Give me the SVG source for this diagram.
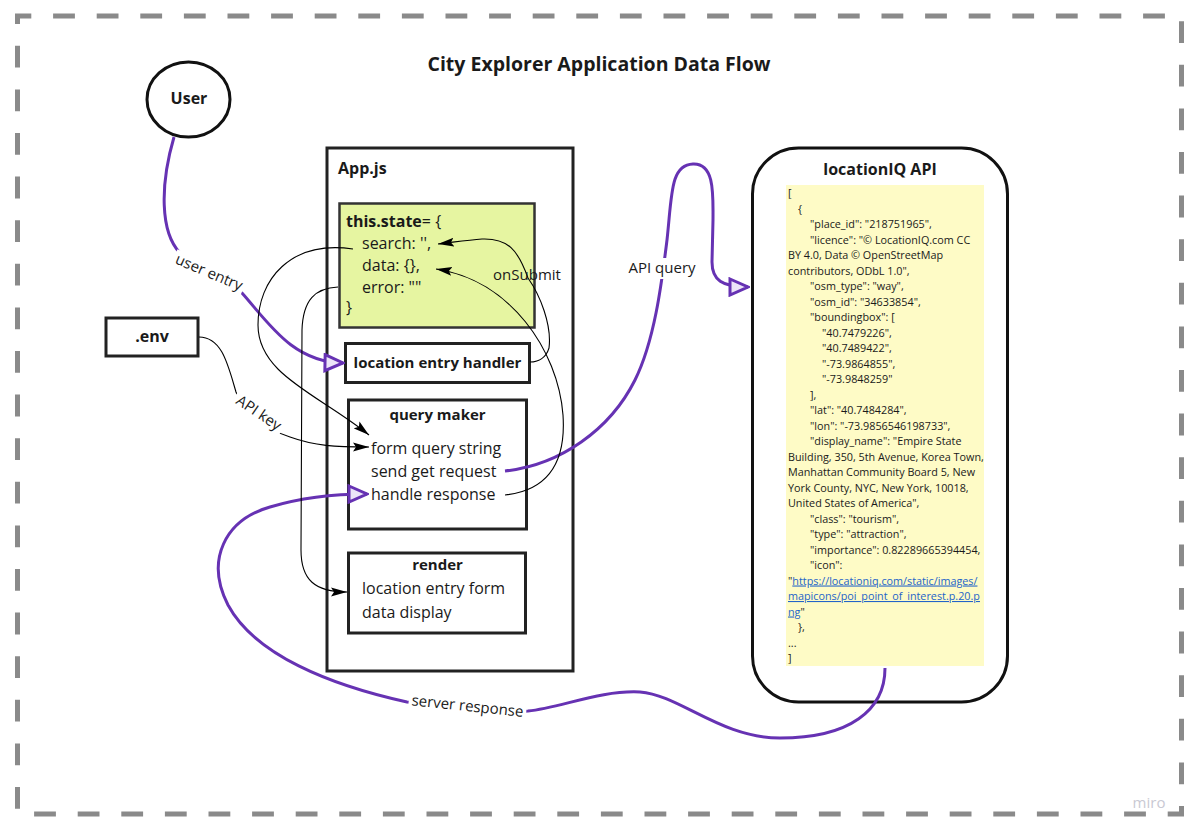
<svg xmlns="http://www.w3.org/2000/svg" width="1195" height="836" viewBox="0 0 1195 836">
<defs>
<style>
text{font-family:"Open Sans","Noto Sans","DejaVu Sans",sans-serif;fill:#1a1a1a}
.b{font-weight:bold}
.box{fill:#fff;stroke:#222;stroke-width:3}
.t16{font-size:16px}
.t15{font-size:15px}
.js{font-size:10.8px;fill:#2a2a2a}
.lnk{fill:#2364c9;text-decoration:underline}
.lbl{font-size:15px}
.bg{fill:#fff}
.pl{fill:none;stroke:#6632b3;stroke-width:3}
.bl{fill:none;stroke:#000;stroke-width:1.1}
</style>
<marker id="pa" viewBox="0 0 22 20" refX="20" refY="10" markerWidth="22" markerHeight="20" markerUnits="userSpaceOnUse" orient="auto">
<path d="M2,2 L20,10 L2,18 Z" fill="#ece5f8" stroke="#6632b3" stroke-width="3" stroke-linejoin="miter"/>
</marker>
<marker id="ba" viewBox="0 0 16 10" refX="16" refY="5" markerWidth="16" markerHeight="10" markerUnits="userSpaceOnUse" orient="auto">
<path d="M0,0.5 L16,5 L0,9.5 L3,5 Z" fill="#000"/>
</marker>
</defs>
<rect width="1195" height="836" fill="#fff"/>
<rect x="17.5" y="16" width="1164" height="798" fill="none" stroke="#8a8a8a" stroke-width="5" stroke-dasharray="21.8 21.8" stroke-dashoffset="8"/>
<text x="599" y="71" text-anchor="middle" class="b" style="font-size:19.5px">City Explorer Application Data Flow</text>

<g id="user"><ellipse cx="188.5" cy="99.5" rx="41.5" ry="37.5" fill="#fff" stroke="#111" stroke-width="3"/><text x="189" y="104" text-anchor="middle" class="b t16">User</text></g>
<g id="env"><rect x="106" y="318" width="92" height="38" class="box"/><text x="152" y="342" text-anchor="middle" class="b t16">.env</text></g>
<g id="app"><rect x="327" y="148" width="246" height="523" class="box"/><text x="338" y="174" class="b t16">App.js</text></g>
<g id="state"><rect x="339.5" y="203.5" width="195" height="124" fill="#e6f5a1" stroke="#333" stroke-width="2.5"/>
<text x="346" y="227" class="t16"><tspan class="b">this.state</tspan>= {</text>
<text x="362" y="249" class="t16">search: '',</text>
<text x="362" y="271" class="t16">data: {},</text>
<text x="362" y="293" class="t16">error: ""</text>
<text x="346" y="313" class="t16">}</text></g>
<g id="handler"><rect x="345.5" y="343.5" width="184" height="39" class="box"/><text x="437.5" y="368" text-anchor="middle" class="b" style="font-size:15px">location entry handler</text></g>
<g id="query"><rect x="348.5" y="400" width="178" height="129" class="box"/><text x="437.5" y="420" text-anchor="middle" class="b t15">query maker</text>
<text x="371" y="454" class="t16">form query string</text>
<text x="371" y="477" class="t16">send get request</text>
<text x="371" y="500" class="t16">handle response</text></g>
<g id="render"><rect x="348.5" y="553" width="177" height="80" class="box"/><text x="437.5" y="570" text-anchor="middle" class="b t15">render</text>
<text x="362" y="594" class="t16">location entry form</text>
<text x="362" y="618" class="t16">data display</text></g>
<g id="api"><rect x="752.5" y="148" width="255" height="554" rx="46" fill="#fff" stroke="#111" stroke-width="3"/>
<text x="880" y="175" text-anchor="middle" class="b t16">locationIQ API</text>
<rect x="786" y="185" width="198" height="481" fill="#fefbc6"/>
<g class="js">
<text x="788" y="197">[</text>
<text x="798" y="212.5">{</text>
<text x="810" y="228">"place_id": "218751965",</text>
<text x="810" y="243.5">"licence": "© LocationIQ.com CC</text>
<text x="788" y="259">BY 4.0, Data © OpenStreetMap</text>
<text x="788" y="274.5">contributors, ODbL 1.0",</text>
<text x="810" y="290">"osm_type": "way",</text>
<text x="810" y="305.5">"osm_id": "34633854",</text>
<text x="810" y="321">"boundingbox": [</text>
<text x="822" y="336.5">"40.7479226",</text>
<text x="822" y="352">"40.7489422",</text>
<text x="822" y="367.5">"-73.9864855",</text>
<text x="822" y="383">"-73.9848259"</text>
<text x="810" y="398.5">],</text>
<text x="810" y="414">"lat": "40.7484284",</text>
<text x="810" y="429.5">"lon": "-73.9856546198733",</text>
<text x="810" y="445">"display_name": "Empire State</text>
<text x="788" y="460.5">Building, 350, 5th Avenue, Korea Town,</text>
<text x="788" y="476">Manhattan Community Board 5, New</text>
<text x="788" y="491.5">York County, NYC, New York, 10018,</text>
<text x="788" y="507">United States of America",</text>
<text x="810" y="522.5">"class": "tourism",</text>
<text x="810" y="538">"type": "attraction",</text>
<text x="810" y="553.5">"importance": 0.82289665394454,</text>
<text x="810" y="569">"icon":</text>
<text x="788" y="584.5">"<tspan class="lnk">https://locationiq.com/static/images/</tspan></text>
<text x="788" y="600"><tspan class="lnk">mapicons/poi_point_of_interest.p.20.p</tspan></text>
<text x="788" y="615.5"><tspan class="lnk">ng</tspan>"</text>
<text x="798" y="631">},</text>
<text x="788" y="646.5">...</text>
<text x="788" y="662">]</text>
</g></g>

<g id="connectors">
<path class="pl" d="M174,137 C160,185 160,232 180,253 C200,274 225,278 242,293 C268,322 292,362 343,363" marker-end="url(#pa)"/>
<path class="pl" d="M505,471 C560,465 610,430 635,380 C655,340 662,280 667,240 C672,195 670,165 693,164 C715,163 713,195 713,220 L712,262 C712,280 722,287 748,287" marker-end="url(#pa)"/>
<path class="pl" d="M885,668 C885,710 850,738 780,738 C720,738 680,695 640,692 C600,690 560,708 528,711 C480,714 440,705 407,702 C330,685 255,655 228,605 C205,560 225,520 270,507 C300,498 330,494 367,494" marker-end="url(#pa)"/>
<path class="bl" d="M199,337 C222,337 228,365 236,392 C245,420 270,430 290,437 C315,446 335,447 369,447" marker-end="url(#ba)"/>
<path class="bl" d="M353,249 C290,240 258,280 258,325 C258,375 320,395 369,435" marker-end="url(#ba)"/>
<path class="bl" d="M338,287 C315,288 303,300 302,330 L301,550 C301,580 315,592 347,592" marker-end="url(#ba)"/>
<path class="bl" d="M530,362 C538,362 546,358 549,348 C552,325 540,295 528,278 C518,250 508,238 482,239 C468,240 455,242 438,244" marker-end="url(#ba)"/>
<path class="bl" d="M505,495 C550,490 566,460 563,415 C558,350 510,280 436,269" marker-end="url(#ba)"/>
<g transform="translate(207,277) rotate(23)"><rect class="bg" x="-38" y="-14" width="76" height="20"/><text class="lbl" text-anchor="middle">user entry</text></g>
<g transform="translate(256,417) rotate(34)"><rect class="bg" x="-29" y="-14" width="58" height="20"/><text class="lbl" text-anchor="middle">API key</text></g>
<g transform="translate(662,273)"><rect class="bg" x="-36" y="-15" width="72" height="21"/><text class="lbl" text-anchor="middle">API query</text></g>
<text x="527" y="280" text-anchor="middle" class="t15">onSubmit</text>
<g transform="translate(467,711) rotate(6)"><rect class="bg" x="-59" y="-14" width="118" height="20"/><text class="lbl" text-anchor="middle">server response</text></g>
</g>
<text x="1149" y="808" text-anchor="middle" style="font-size:15px;fill:#c9c9d3">miro</text>
</svg>
